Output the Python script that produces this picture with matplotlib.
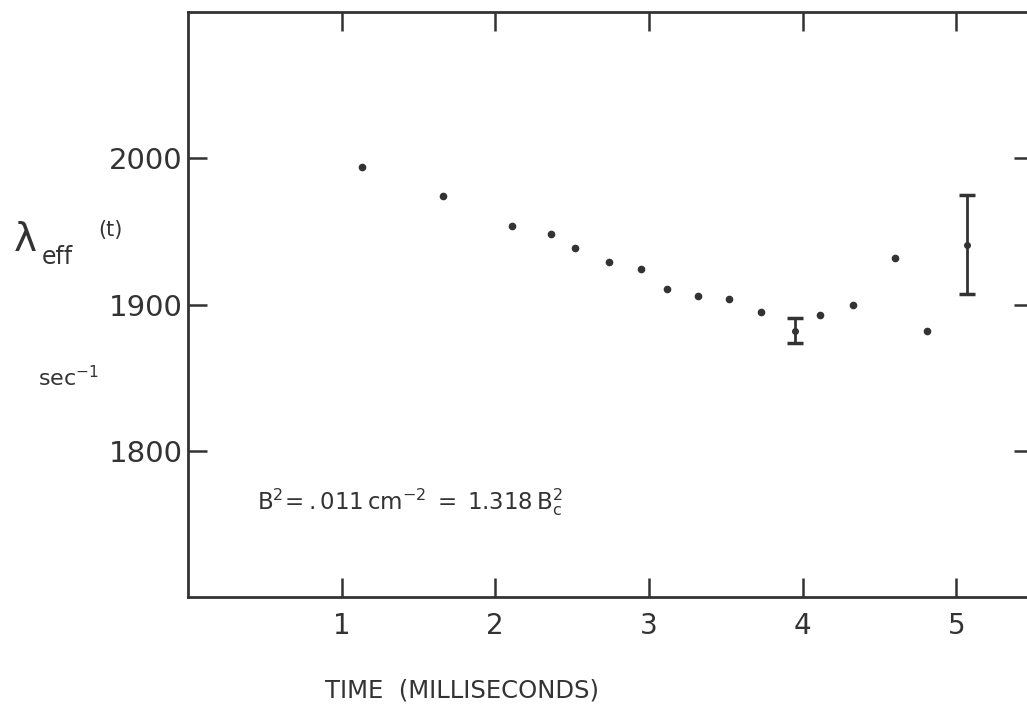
import matplotlib.pyplot as plt

# time (ms) and lambda_eff (sec^-1)
t = [1.13, 1.66, 2.11, 2.36, 2.52, 2.74, 2.95, 3.12, 3.32, 3.52, 3.73,
     4.11, 4.33, 4.60, 4.81]
lam = [1994, 1974, 1954, 1948, 1939, 1929, 1924, 1911, 1906, 1904, 1895,
       1893, 1900, 1932, 1882]

# points drawn with error bars
t_err = [3.95, 5.07]
lam_err = [1882, 1941]
err = [8.5, 34]

ink = '#333333'

fig = plt.figure(figsize=(10.27, 7.10), dpi=100)
ax = fig.add_axes([0.183, 0.159, 0.823, 0.824])

ax.plot(t, lam, 'o', color=ink, markersize=4.5, linestyle='none')
ax.errorbar(t_err, lam_err, yerr=err, fmt='o', color=ink, markersize=4,
            elinewidth=2, capsize=6, capthick=2.5)

ax.set_xlim(0, 5.5)
ax.set_ylim(1700, 2100)
ax.set_xticks([1, 2, 3, 4, 5])
ax.set_xticklabels(['1', '2', '3', '4', '5'])
ax.set_yticks([1800, 1900, 2000])
ax.set_yticklabels(['1800', '1900', '2000'])

ax.tick_params(direction='in', length=14, width=1.8, color=ink,
               top=True, right=True, labelcolor=ink)
ax.tick_params(axis='y', labelsize=21, pad=4)
ax.tick_params(axis='x', labelsize=20, pad=11)
for s in ax.spines.values():
    s.set_linewidth(2)
    s.set_color(ink)

ax.text(0.45, 1765, r'$\mathrm{B^2\!=.011\,cm^{-2}\;=\;1.318\,B_c^2}$',
        fontsize=16.5, color=ink, va='center', ha='left')

# y label pieces
fig.text(0.013, 0.662, 'λ', fontsize=28, color=ink, va='center', ha='left')
fig.text(0.041, 0.638, 'eff', fontsize=17, color=ink, va='center', ha='left')
fig.text(0.096, 0.676, '(t)', fontsize=15, color=ink, va='center', ha='left')
fig.text(0.037, 0.468, r'sec$^{-1}$', fontsize=16, color=ink,
         va='center', ha='left')

fig.text(0.45, 0.028, 'TIME  (MILLISECONDS)', fontsize=17.5, color=ink,
         va='center', ha='center')

fig.savefig('out.png', dpi=100)
